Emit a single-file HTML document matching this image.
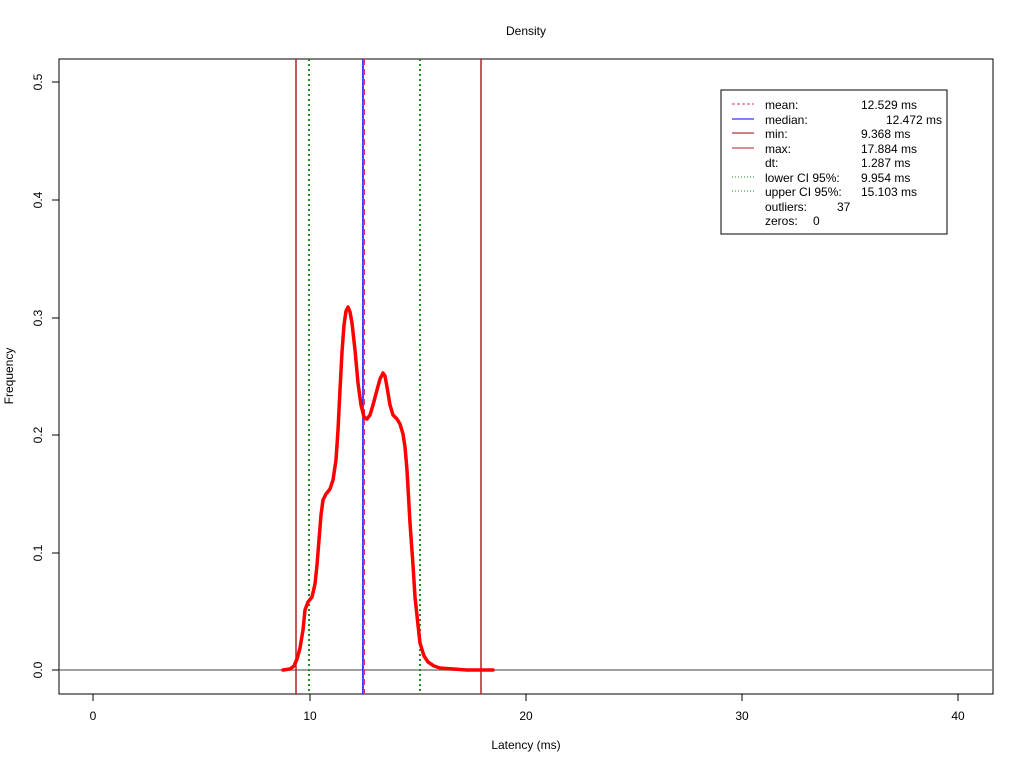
<!DOCTYPE html>
<html><head><meta charset="utf-8"><style>body{margin:0;background:#fff}svg{display:block}text{font-family:"Liberation Sans",sans-serif;font-size:12px}</style></head>
<body>
<svg width="1024" height="768" viewBox="0 0 1024 768">
<rect width="1024" height="768" fill="#fff"/>
<text x="526" y="35" text-anchor="middle" font-size="13">Density</text>
<rect x="59" y="59" width="934" height="635" fill="none" stroke="#000"/>
<line x1="59" y1="670" x2="993" y2="670" stroke="#808080" stroke-width="1.5"/>
<g stroke="#000">
<line x1="93" y1="694" x2="958" y2="694"/>
<line x1="93" y1="694" x2="93" y2="701"/><line x1="310" y1="694" x2="310" y2="701"/><line x1="526" y1="694" x2="526" y2="701"/><line x1="742" y1="694" x2="742" y2="701"/><line x1="958" y1="694" x2="958" y2="701"/>
<line x1="59" y1="82" x2="59" y2="670"/>
<line x1="52" y1="670" x2="59" y2="670"/><line x1="52" y1="553" x2="59" y2="553"/><line x1="52" y1="435" x2="59" y2="435"/><line x1="52" y1="318" x2="59" y2="318"/><line x1="52" y1="200" x2="59" y2="200"/><line x1="52" y1="82" x2="59" y2="82"/>
</g>
<g text-anchor="middle">
<text x="93" y="720">0</text><text x="310" y="720">10</text><text x="526" y="720">20</text><text x="742" y="720">30</text><text x="958" y="720">40</text>
<text x="526" y="749">Latency (ms)</text>
</g>
<g text-anchor="middle">
<text transform="translate(42,670) rotate(-90)">0.0</text>
<text transform="translate(42,553) rotate(-90)">0.1</text>
<text transform="translate(42,435) rotate(-90)">0.2</text>
<text transform="translate(42,318) rotate(-90)">0.3</text>
<text transform="translate(42,200) rotate(-90)">0.4</text>
<text transform="translate(42,82) rotate(-90)">0.5</text>
<text transform="translate(13,376) rotate(-90)">Frequency</text>
</g>
<line x1="296" y1="59" x2="296" y2="694" stroke="#b22222" stroke-width="1.5"/>
<line x1="481" y1="59" x2="481" y2="694" stroke="#b22222" stroke-width="1.5"/>
<line x1="309" y1="59" x2="309" y2="694" stroke="#228b22" stroke-width="2" stroke-dasharray="2,3"/>
<line x1="420" y1="59" x2="420" y2="694" stroke="#228b22" stroke-width="2" stroke-dasharray="2,3"/>
<line x1="363" y1="59" x2="363" y2="694" stroke="#0000ff" stroke-width="1.5"/>
<line x1="364" y1="59" x2="364" y2="694" stroke="#e0306a" stroke-width="2" stroke-dasharray="6,4"/>
<path d="M283,670 L290,669 L294,666 L297,659 L300,648 L303,630 L305,610 L308,602 L312,597 L315,584 L317,565 L319,540 L321,515 L323,500 L326,494 L330,489 L333,480 L336,460 L338,430 L340,390 L342,352 L344,325 L346,311 L348,307 L350,312 L352,323 L355,350 L358,383 L361,405 L364,417 L367,419 L370,415 L373,405 L377,390 L380,379 L383,373 L385,376 L387,387 L390,405 L393,415 L397,419 L400,424 L403,434 L405,447 L407,470 L410,523 L413,565 L415,597 L418,625 L420,643 L424,656 L428,662 L434,666 L440,668 L467,670 L493,670" fill="none" stroke="#ff0000" stroke-width="3.5" stroke-linejoin="round" stroke-linecap="round"/>
<rect x="721" y="90" width="226" height="144" fill="#fff" stroke="#000"/>
<line x1="732" y1="104" x2="754" y2="104" stroke="#e0306a" stroke-dasharray="3,2"/>
<line x1="732" y1="119" x2="754" y2="119" stroke="#0000ff"/>
<line x1="732" y1="133" x2="754" y2="133" stroke="#d08080" stroke-width="2"/>
<line x1="732" y1="148" x2="754" y2="148" stroke="#b22222"/>
<line x1="732" y1="177" x2="754" y2="177" stroke="#228b22" stroke-dasharray="1,2"/>
<line x1="732" y1="191" x2="754" y2="191" stroke="#228b22" stroke-dasharray="1,2"/>
<text x="765" y="109">mean:</text><text x="861" y="109">12.529 ms</text>
<text x="765" y="124">median:</text><text x="886" y="124">12.472 ms</text>
<text x="765" y="138">min:</text><text x="861" y="138">9.368 ms</text>
<text x="765" y="153">max:</text><text x="861" y="153">17.884 ms</text>
<text x="765" y="167">dt:</text><text x="861" y="167">1.287 ms</text>
<text x="765" y="182">lower CI 95%:</text><text x="861" y="182">9.954 ms</text>
<text x="765" y="196">upper CI 95%:</text><text x="861" y="196">15.103 ms</text>
<text x="765" y="211">outliers:</text><text x="837" y="211">37</text>
<text x="765" y="225">zeros:</text><text x="813" y="225">0</text>
</svg>
</body></html>
